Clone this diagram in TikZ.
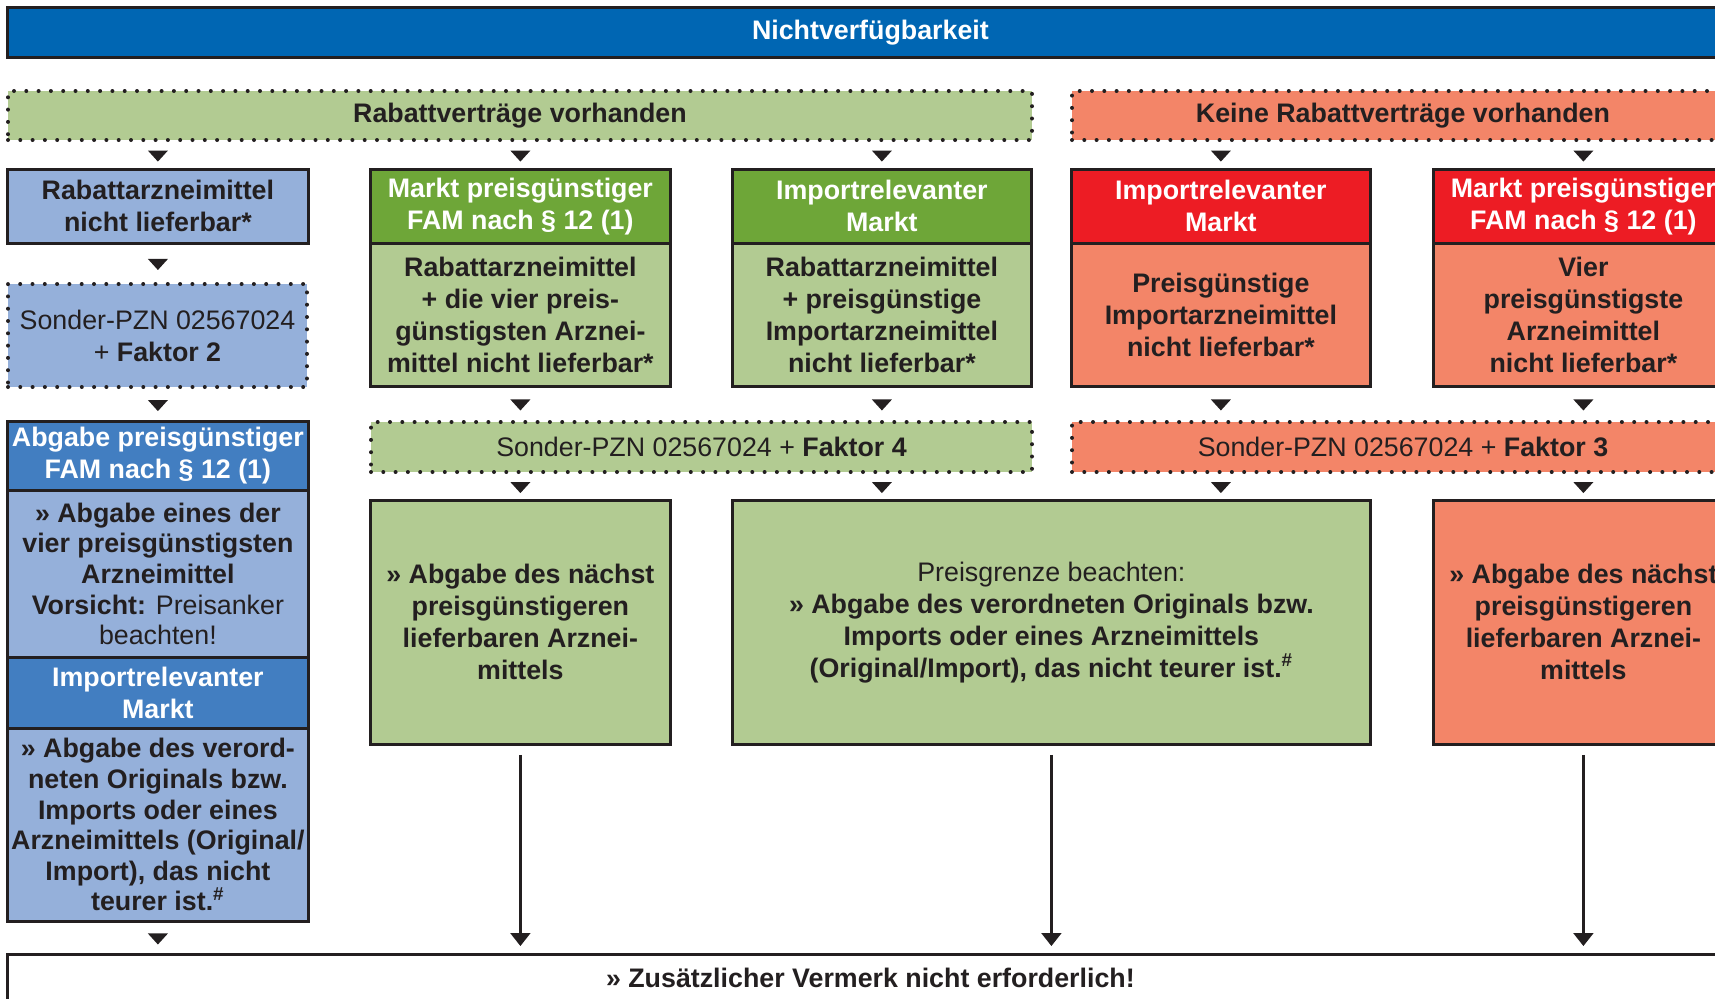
\documentclass[tikz,border=0pt]{standalone}
\usepackage{fontspec}
\setmainfont{Liberation Sans}
\usetikzlibrary{arrows.meta,shapes.geometric}
\definecolor{titleblue}{RGB}{0,102,179}
\definecolor{lgreen}{RGB}{178,203,146}
\definecolor{dgreen}{RGB}{110,166,56}
\definecolor{lblue}{RGB}{149,176,218}
\definecolor{mblue}{RGB}{66,126,193}
\definecolor{dred}{RGB}{237,28,36}
\definecolor{salmon}{RGB}{243,133,104}
\definecolor{ink}{RGB}{35,31,32}
\begin{document}
\begin{tikzpicture}[x=0.5pt,y=-0.5pt,
  base/.style={anchor=north west, inner sep=0pt, align=center,
    font=\fontsize{13.4pt}{16pt}\selectfont\bfseries, text=ink},
  solidbox/.style={base, draw=ink, line width=1.4pt},
  headbox/.style={solidbox, text=white},
  dotbox/.style={base, draw=ink, line width=2pt, dash pattern=on 0pt off 6.15pt,
    line cap=round, font=\fontsize{13.4pt}{16pt}\selectfont\mdseries},
  dtri/.style={isosceles triangle, isosceles triangle stretches, shape border rotate=-90,
    fill=ink, draw=none, inner sep=0pt, minimum width=10pt, minimum height=5.5pt},
  longarr/.style={draw=ink, line width=1.1pt, -{Triangle[width=10pt,length=6.5pt]},
    shorten <=4.5pt, shorten >=3.5pt}
]
\useasboundingbox (0,0) rectangle (1715,998);
\clip (0,0) rectangle (1715,998);

% title
\node[headbox, fill=titleblue, minimum width=863pt, minimum height=25pt] (title) at (6,6) {Nichtverfügbarkeit};

% top bars
\node[dotbox, fill=lgreen, minimum width=512pt, minimum height=24.5pt, font=\fontsize{13.4pt}{16pt}\selectfont\bfseries] (bar1g) at (6,89) {Rabattverträge vorhanden};
\node[dotbox, fill=salmon, minimum width=331pt, minimum height=24.5pt, font=\fontsize{13.4pt}{16pt}\selectfont\bfseries] (bar1r) at (1070,89) {Keine Rabattverträge vorhanden};

% column 1
\node[solidbox, fill=lblue, minimum width=150.5pt, minimum height=37pt] (b11) at (6,168) {Rabattarzneimittel\\nicht lieferbar*};
\node[dotbox, fill=lblue, minimum width=149.5pt, minimum height=51.5pt] (b12) at (6,282) {Sonder-PZN 02567024\\+ \textbf{Faktor 2}};
\node[headbox, fill=mblue, minimum width=150.5pt, minimum height=34.5pt] (b13) at (6,420) {Abgabe preisgünstiger\\FAM nach § 12 (1)};
\node[solidbox, fill=lblue, minimum width=150.5pt, minimum height=83.5pt, font=\fontsize{13.4pt}{15.3pt}\selectfont\bfseries] (b14) at (6,489) {» Abgabe eines der\\vier preisgünstigsten\\Arzneimittel\\Vorsicht: {\mdseries Preisanker}\\{\mdseries beachten!}};
\node[headbox, fill=mblue, minimum width=150.5pt, minimum height=35.5pt] (b15) at (6,656) {Importrelevanter\\Markt};
\node[solidbox, fill=lblue, minimum width=150.5pt, minimum height=96.5pt, font=\fontsize{13.4pt}{15.3pt}\selectfont\bfseries] (b16) at (6,727) {» Abgabe des verord-\\neten Originals bzw.\\Imports oder eines\\Arzneimittels (Original/\\Import), das nicht\\teurer ist.\textsuperscript{\#}};

% column 2
\node[headbox, fill=dgreen, minimum width=150pt, minimum height=37pt] (h2) at (369,168) {Markt preisgünstiger\\FAM nach § 12 (1)};
\node[solidbox, fill=lgreen, minimum width=150pt, minimum height=71.5pt] (d2) at (369,242) {Rabattarzneimittel\\+ die vier preis-\\günstigsten Arznei-\\mittel nicht lieferbar*};
% column 3
\node[headbox, fill=dgreen, minimum width=149.5pt, minimum height=37pt] (h3) at (731,168) {Importrelevanter\\Markt};
\node[solidbox, fill=lgreen, minimum width=149.5pt, minimum height=71.5pt] (d3) at (731,242) {Rabattarzneimittel\\+ preisgünstige\\Importarzneimittel\\nicht lieferbar*};
% column 4
\node[headbox, fill=dred, minimum width=149.5pt, minimum height=37pt] (h4) at (1070,168) {Importrelevanter\\Markt};
\node[solidbox, fill=salmon, minimum width=149.5pt, minimum height=71.5pt] (d4) at (1070,242) {Preisgünstige\\Importarzneimittel\\nicht lieferbar*};
% column 5
\node[headbox, fill=dred, minimum width=150pt, minimum height=37pt] (h5) at (1432,168) {Markt preisgünstiger\\FAM nach § 12 (1)};
\node[solidbox, fill=salmon, minimum width=150pt, minimum height=71.5pt] (d5) at (1432,242) {Vier\\preisgünstigste\\Arzneimittel\\nicht lieferbar*};

% row 3 bars
\node[dotbox, fill=lgreen, minimum width=330.5pt, minimum height=25pt] (bar3g) at (369,420) {Sonder-PZN 02567024 + \textbf{Faktor 4}};
\node[dotbox, fill=salmon, minimum width=331pt, minimum height=25pt] (bar3r) at (1070,420) {Sonder-PZN 02567024 + \textbf{Faktor 3}};

% row 4
\node[solidbox, fill=lgreen, minimum width=150pt, minimum height=122pt] (g4) at (369,499) {» Abgabe des nächst\\preisgünstigeren\\lieferbaren Arznei-\\mittels};
\node[solidbox, fill=lgreen, minimum width=319pt, minimum height=122pt] (w4) at (731,499) {{\mdseries Preisgrenze beachten:}\\» Abgabe des verordneten Originals bzw.\\Imports oder eines Arzneimittels\\(Original/Import), das nicht teurer ist.\textsuperscript{\#}};
\node[solidbox, fill=salmon, minimum width=150pt, minimum height=122pt] (r4) at (1432,499) {» Abgabe des nächst\\preisgünstigeren\\lieferbaren Arznei-\\mittels};

% bottom
\node[solidbox, fill=white, minimum width=863pt, minimum height=24pt] (bottom) at (6,953) {» Zusätzlicher Vermerk nicht erforderlich!};

% triangles
\path (bar1g.south -| b11.north) -- node[dtri]{} (b11.north);
\path (bar1g.south -| h2.north) -- node[dtri]{} (h2.north);
\path (bar1g.south -| h3.north) -- node[dtri]{} (h3.north);
\path (bar1r.south -| h4.north) -- node[dtri]{} (h4.north);
\path (bar1r.south -| h5.north) -- node[dtri]{} (h5.north);
\path (b11.south) -- node[dtri]{} (b12.north -| b11.south);
\path (b12.south -| b11.south) -- node[dtri]{} (b13.north -| b11.south);
\path (d2.south) -- node[dtri]{} (bar3g.north -| d2.south);
\path (d3.south) -- node[dtri]{} (bar3g.north -| d3.south);
\path (d4.south) -- node[dtri]{} (bar3r.north -| d4.south);
\path (d5.south) -- node[dtri]{} (bar3r.north -| d5.south);
\path (bar3g.south -| g4.north) -- node[dtri]{} (g4.north);
\path (bar3g.south -| d3.south) -- node[dtri]{} (w4.north -| d3.south);
\path (bar3r.south -| d4.south) -- node[dtri]{} (w4.north -| d4.south);
\path (bar3r.south -| r4.north) -- node[dtri]{} (r4.north);
\path (b16.south) -- node[dtri]{} (bottom.north -| b16.south);

% long arrows
\draw[longarr] (g4.south) -- (bottom.north -| g4.south);
\draw[longarr] (w4.south) -- (bottom.north -| w4.south);
\draw[longarr] (r4.south) -- (bottom.north -| r4.south);
\end{tikzpicture}
\end{document}
